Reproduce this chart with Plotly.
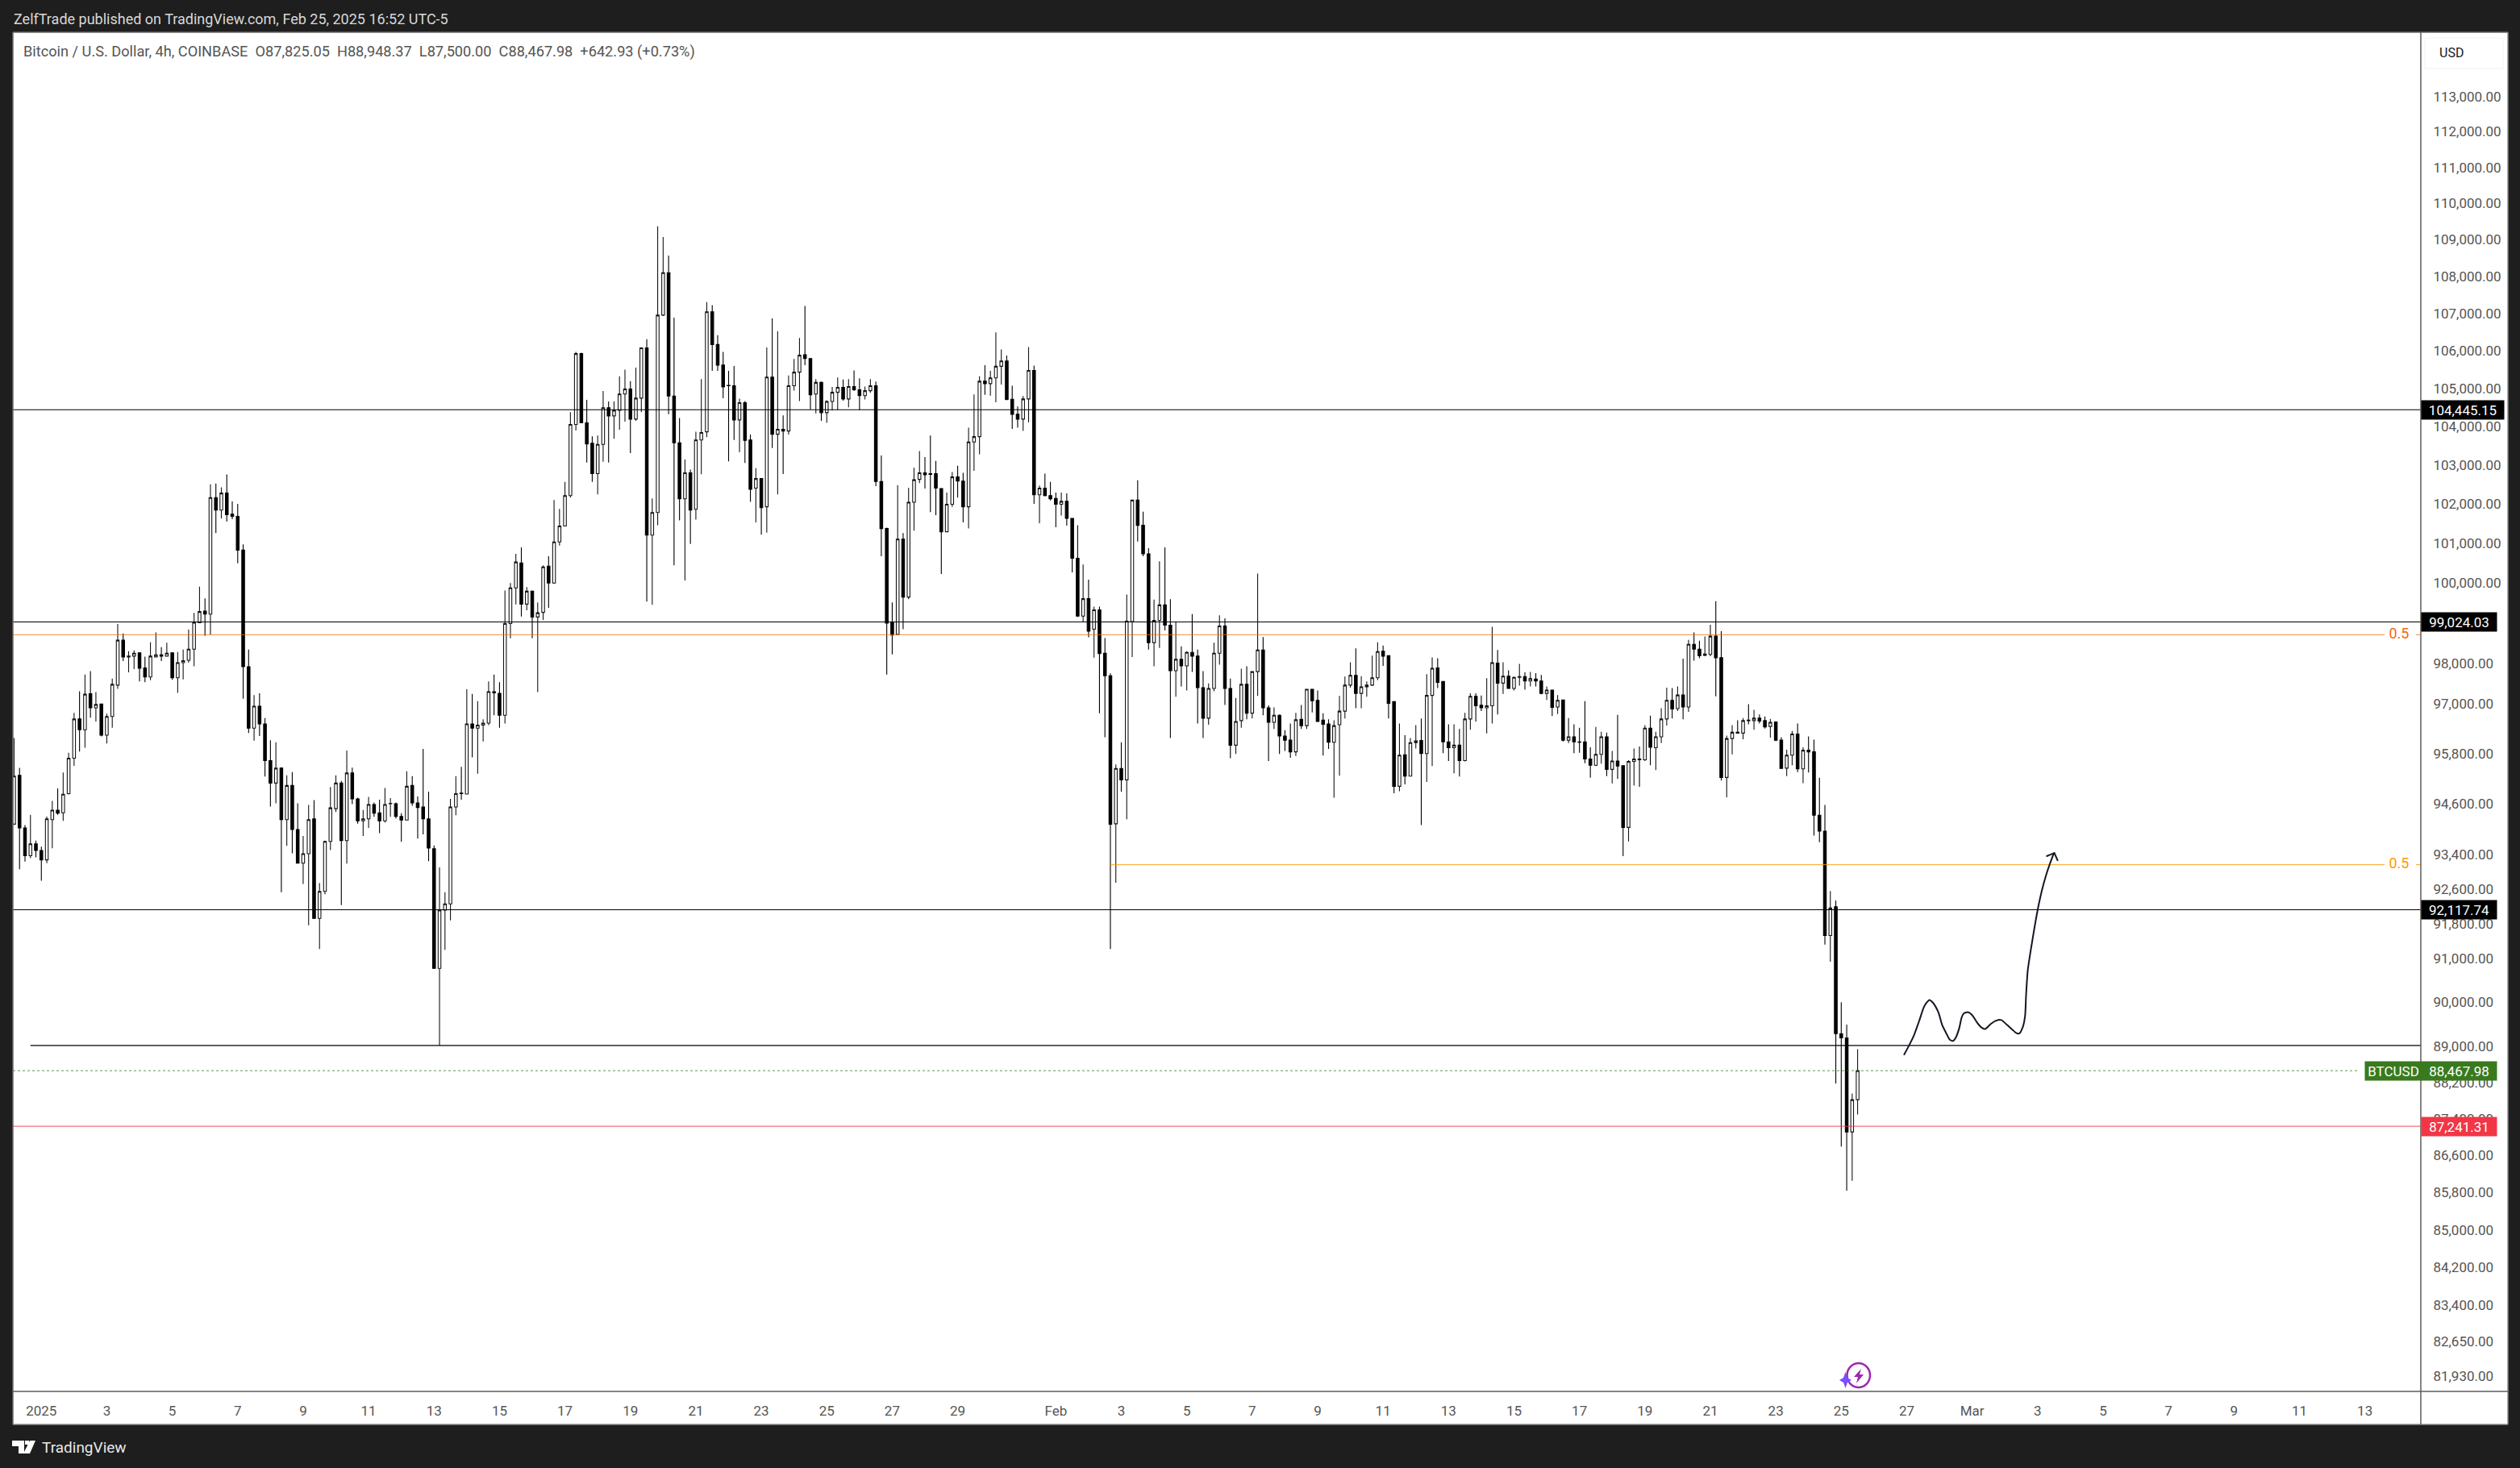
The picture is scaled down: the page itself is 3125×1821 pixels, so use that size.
import math
import pandas as pd
import plotly.graph_objects as go

# ---------- OHLC values (4h bars, oldest first) ----------
opens = [94120,95280,94030,93375,93655,93500,93280,94226,94450,94390,94845,95694,96640,96378,97253,96911,97002,96247,96700,97465,
98571,98158,98178,98259,97887,97666,98158,98209,98178,98259,97646,98017,98077,98350,99004,99293,99221,102166,101846,102283,
101740,101687,100827,97917,96418,96952,96519,95634,95096,95454,94226,95038,93994,93201,93423,94245,91919,92543,93714,94487,
95096,93733,95338,94719,94197,94245,94584,94390,94197,94603,94603,94303,94216,95038,94622,94526,94245,93539,90771,92108,
92253,94526,94855,94835,96519,96418,96489,96539,97304,97263,96730,98984,99874,100505,99469,99791,99148,99262,100423,99998,
101034,101438,102219,104062,105930,104104,103572,102784,103540,104500,104285,104434,104860,104991,104200,104750,106083,101210,101783,106958,
108103,104808,103582,102134,102805,101868,103657,103870,107049,106171,105624,105089,105078,104179,104631,103657,102411,102656,101931,105307,
103806,103934,103891,105078,105438,105898,105799,104860,105166,104370,104664,104904,105034,104729,105056,104970,104816,104948,105078,102581,
101376,99014,98712,101106,99646,102048,102635,102805,102784,102784,102400,101293,101995,102698,102592,101931,103604,103742,105198,105133,
105285,105592,105734,104718,104328,104200,104729,105482,102240,102411,102219,102145,101995,102070,101635,100620,99169,99604,98843,99324,
98249,97696,94129,95445,95174,99034,102102,101458,100733,98511,99065,99449,98944,97817,98098,97937,98269,98178,97404,96660,
97384,98249,98923,97384,96006,96600,97485,96781,97797,98330,96911,96559,96730,96227,96127,95845,96630,96479,97364,97092,
96610,96519,96076,96499,96831,97465,97706,97263,97424,97465,97646,98299,98188,97062,95019,95774,95261,96066,96117,95805,
97213,97887,97555,96086,95946,96006,95634,96640,97193,96972,96911,96962,98007,97515,97686,97384,97656,97676,97565,97616,
97565,97263,97344,96931,97102,96127,96207,96086,96086,95674,95523,95785,96207,95425,95624,95513,94042,95614,95674,95654,
96418,95946,96207,96640,97092,96891,97223,96931,98470,98350,98199,98219,98671,98138,95232,96167,96318,96298,96610,96600,
96660,96600,96458,96569,96127,95454,95764,96277,95435,95885,95845,94332,93955,91524,92186,89293,89199,87118,87825.05]
highs = [96177,95460,94100,94340,93730,93590,94300,94670,94970,95350,95825,96790,97314,97726,97807,97294,97002,96771,97626,98974,
98741,98299,98320,98269,98168,98521,98762,98400,98511,98259,98279,98340,98833,99252,99905,99615,102506,102528,102432,102762,
102070,102006,100972,98340,97223,97263,96660,96127,96076,95474,95280,95358,94613,93839,94574,94690,92737,93733,95000,95280,
95145,95875,95464,94748,94458,94767,94632,94700,94980,94738,94632,94381,95377,95261,94777,95915,94893,93617,93104,92524,
94719,95261,95484,97364,97253,97072,96630,97555,97726,97535,99811,99998,100733,100899,99894,99811,99511,100443,100671,102102,
101878,102571,104381,105974,105952,104707,103753,103774,104937,104664,104664,105329,105504,105198,105559,106083,106313,102145,109369,109078,
108573,106892,104232,103146,102890,103870,105253,107307,107228,106422,105974,105471,105602,104740,104675,103796,102922,102667,106094,106870,
106521,104296,105351,105788,106346,107206,105799,105253,105187,104696,105045,105296,105242,105253,105482,105275,105056,105253,105187,103252,
101397,99511,102485,101262,102421,102933,103369,103210,103774,103114,102400,102294,102826,102986,102805,103976,104849,105329,105624,105471,
106499,106040,105876,105078,104533,104805,106105,105613,102475,102784,102571,102294,102294,102273,101645,101459,100464,100081,99407,99407,
98622,97756,95543,96076,99708,102102,102613,101803,100878,99583,100547,100899,99594,99034,98420,98299,99221,98340,97807,97505,
98511,99190,99117,97626,97153,97867,97927,97807,100236,98651,96972,96921,96750,96368,96529,96791,96982,97364,97364,97334,
96781,96630,96610,97203,97676,98027,98370,97686,97555,98189,98521,98440,98188,97072,96529,96247,96177,96489,96650,97736,
98148,98128,97565,96509,96509,96398,96791,97263,97263,97213,97636,98903,98330,98027,97827,97676,97988,97777,97787,97757,
97716,97434,97344,97223,97102,96660,96509,96428,97072,95956,96448,96328,96308,95865,96740,95513,95644,95926,95976,96489,
96720,96328,96901,97404,97394,97434,98118,98581,98762,98561,98662,98954,99542,98792,96237,96489,96610,96660,97002,96861,
96750,96700,96640,96579,96197,95895,96348,96529,95956,96217,96137,95222,94574,92553,92331,90000,89500,87963,88948.37]
lows = [94120,93060,93240,93320,93340,92790,93200,93550,94340,94200,94826,95510,95855,95946,96670,96579,96217,96046,96428,97374,
98057,97777,97857,97555,97535,97585,98158,98057,98178,97595,97274,97605,98017,97927,99004,98681,98711,101262,101635,101552,
101614,100495,97133,96298,96117,96227,95251,94535,94613,92524,93607,93433,93201,92718,91759,91919,91213,92476,93510,94410,
92224,93191,94594,94129,93839,94033,94294,93907,94158,94294,94255,93704,94206,94555,93781,93878,93249,90771,89030,91194,
91872,94332,94700,94835,95714,95319,96097,96489,96730,96428,96529,98621,99459,99159,99314,98621,97294,99076,99376,99977,
100941,101438,102166,103902,104104,103071,102571,102251,103092,103071,103689,103923,104136,103316,104157,104381,99532,99449,101459,106936,
104328,100443,101583,100060,100982,101604,102767,103732,105471,105471,104750,103103,103657,103337,103060,102060,101531,101220,101272,103444,
102251,102773,103796,104948,104675,105624,104456,104349,104157,104104,104423,104434,104686,104511,104937,104434,104718,104893,102464,100671,
97726,98219,98692,98843,99594,101324,102539,102400,101793,101719,100226,101293,101931,102166,101531,101376,102858,103284,104838,104816,
104642,105111,104696,103945,103976,103891,104115,102006,101510,102198,102092,101407,101708,101449,100267,99148,99024,98642,98139,96781,
96197,91213,92747,94893,94235,98158,101044,100671,98340,97927,98380,98813,96177,97183,97434,97334,97787,96529,96177,96499,
97314,97968,96982,95694,95795,96428,96630,96650,97203,96730,95624,96398,95795,95865,95704,95744,96398,96398,96801,96579,
95754,95915,94748,95270,96650,97404,96901,96901,97183,97444,97585,97937,96650,94855,94903,95067,95251,95926,94100,95125,
95503,97394,95815,95624,95329,95251,95614,96378,96579,96831,96288,96529,96750,97253,97374,97334,97454,97354,97434,97434,
97243,97102,96710,96760,96097,96056,95815,95825,95574,95222,95503,95563,95261,95087,95193,93365,93714,95038,95009,95624,
95523,95406,96056,96479,96650,96831,96630,96811,98067,98128,98178,98178,97193,95155,94758,95785,96298,96147,96509,96378,
96529,96408,96187,96107,95435,95261,95523,95358,95096,95348,93849,93694,91317,90921,88184,86797,85842,86054,87500.00]
closes = [95261,94030,93375,93655,93500,93280,94245,94450,94380,94830,95694,96640,96378,97243,96911,96992,96247,96700,97485,98571,
98158,98178,98249,97877,97666,98178,98209,98178,98249,97646,98017,98067,98350,99014,99283,99221,102166,101846,102283,101729,
101687,100827,97917,96418,96952,96519,95634,95096,95454,94226,95038,93994,93201,93423,94226,91919,92543,93714,94506,95096,
93733,95338,94719,94197,94245,94584,94381,94197,94584,94613,94303,94216,95019,94622,94516,94245,93559,90771,92108,92253,
94526,94845,94845,96519,96418,96489,96539,97304,97274,96730,98984,99874,100526,99469,99791,99148,99252,100402,99998,101034,
101438,102219,104062,105930,104104,103550,102784,103540,104500,104285,104434,104860,104991,104200,104750,106083,101210,101783,106958,108103,
104808,103582,102134,102805,101846,103657,103849,107049,106171,105624,105045,105078,104179,104631,103646,102379,102656,101910,105307,103806,
103934,103891,105078,105438,105887,105799,104838,105166,104370,104664,104904,105034,104729,105056,104970,104816,104948,105078,102581,101376,
98994,98702,101106,99646,102048,102624,102805,102752,102763,102411,101293,101995,102698,102592,101931,103604,103742,105198,105133,105285,
105592,105734,104718,104328,104200,104729,105482,102240,102411,102219,102134,101995,102070,101635,100620,99169,99604,98793,99324,98239,
97696,94120,95445,95174,99045,102102,101458,100733,98511,99065,99449,98944,97817,98098,97937,98269,98178,97404,96660,97384,
98249,98923,97384,96006,96579,97485,96781,97797,98330,96911,96559,96730,96227,96127,95845,96620,96479,97364,97082,96579,
96509,96076,96479,96831,97465,97706,97263,97424,97465,97646,98289,98178,97022,95019,95764,95261,96066,96107,95805,97213,
97877,97535,96086,95946,96006,95634,96640,97193,96962,96911,96962,98017,97515,97686,97384,97656,97676,97565,97626,97565,
97263,97344,96921,97092,96127,96207,96086,96076,95674,95523,95785,96207,95425,95624,95503,94042,95614,95674,95654,96418,
95956,96207,96640,97092,96881,97223,96931,98470,98350,98189,98229,98671,98138,95232,96167,96318,96298,96600,96600,96660,
96590,96448,96559,96127,95445,95764,96277,95435,95885,95845,94332,93955,91524,92157,89293,89199,87118,87825,88467.98]

first_bar = "2024-12-31 07:00"
times = pd.date_range(first_bar, periods=len(opens), freq="4h")

# ---------- axis labels ----------
x_tick_dates = ["2025-01-%02d 03:00" % d for d in range(1, 30, 2)] + \
               ["2025-02-01 03:00"] + ["2025-02-%02d 03:00" % d for d in range(3, 28, 2)] + \
               ["2025-03-01 03:00"] + ["2025-03-%02d 03:00" % d for d in range(3, 14, 2)]
x_tick_labels = ["2025"] + [str(d) for d in range(3, 30, 2)] + \
                ["Feb"] + [str(d) for d in range(3, 28, 2)] + \
                ["Mar"] + [str(d) for d in range(3, 14, 2)]
y_tick_values = [113000,112000,111000,110000,109000,108000,107000,106000,105000,104000,103000,102000,101000,100000,
                 98000,97000,95800,94600,93400,92600,91800,91000,90000,89000,88200,87400,86600,85800,85000,84200,83400,82650,81930]
y_tick_labels = ["{:,.2f}".format(v) for v in y_tick_values]

# ---------- drawing levels ----------
resistance_upper = 104445.15
resistance_mid = 99024.03
fib_red = 98707
fib_orange = 93166
level_lower = 92117.74
level_base = 89030
last_price = 88467.98
level_red = 87241.31

# hand-drawn sketch: days after 25 Feb 03:00, and price
sketch_days = [1.914,2.062,2.226,2.390,2.513,2.595,2.694,2.800,2.965,3.088,3.211,3.318,3.416,3.498,3.605,3.679,3.745,3.868,3.991,4.155,
               4.278,4.401,4.566,4.730,4.894,5.058,5.222,5.346,5.444,5.551,5.617,5.649,5.699,5.797,5.920,6.027,6.125,6.249,6.372,6.495]
sketch_price = [88817,89016,89266,89600,89871,89980,90054,89993,89780,89480,89300,89158,89133,89205,89418,89660,89750,89780,89720,89540,
                89437,89400,89510,89587,89600,89497,89390,89310,89300,89450,89690,90177,90727,91218,91773,92210,92550,92896,93180,93430]
arrow_days = [6.265, 6.512, 6.618]
arrow_price = [93362, 93443, 93255]

# ---------- pane geometry ----------
W, H = 3125, 1821
PL, PR, PT, PB = 16, 3002, 40, 1726
OR, OB = 3110, 1767
def px(x): return (x - PL) / (PR - PL)
def py(y): return (PB - y) / (PB - PT)

X_LEFT = "2024-12-31 06:08"
X_RIGHT = "2025-03-14 20:02"
Y_TOP = 114835
Y_BOTTOM = 81620

BG = "#1e1e1e"
FONT = "Roboto"
anchor = pd.Timestamp("2025-02-25 03:00")

fig = go.Figure()
fig.add_trace(go.Candlestick(
    x=times, open=opens, high=highs, low=lows, close=closes,
    increasing=dict(line=dict(color="#16161a", width=1.1), fillcolor="#ffffff"),
    decreasing=dict(line=dict(color="#000000", width=1.1), fillcolor="#000000"),
    whiskerwidth=0, showlegend=False))

def hline(start, end, price, color, width=1.1, dash="solid"):
    fig.add_trace(go.Scatter(x=[start, end], y=[price, price], mode="lines", hoverinfo="skip",
                             line=dict(color=color, width=width, dash=dash), showlegend=False))

hline(X_LEFT, X_RIGHT, resistance_upper, "#000000")
hline(X_LEFT, X_RIGHT, resistance_mid, "#000000")
hline(X_LEFT, "2025-03-13 17:30", fib_red, "#ef6c00", 0.8)
hline("2025-03-14 16:30", X_RIGHT, fib_red, "#ef6c00", 0.8)
hline("2025-02-02 19:00", "2025-03-13 17:30", fib_orange, "#ff9800", 0.9)
hline("2025-03-14 16:30", X_RIGHT, fib_orange, "#ff9800", 0.9)
hline(X_LEFT, X_RIGHT, level_lower, "#000000")
hline("2024-12-31 19:00", X_RIGHT, level_base, "#000000")
hline(X_LEFT, "2025-03-12 21:30", last_price, "#3a7a1e", 0.8, "dot")
hline(X_LEFT, X_RIGHT, level_red, "#f23645", 0.9)

fig.add_trace(go.Scatter(
    x=["2025-03-14 04:00", "2025-03-14 04:00"], y=[fib_red, fib_orange], mode="text",
    text=["0.5", "0.5"], textposition="middle center", hoverinfo="skip", showlegend=False,
    textfont=dict(family=FONT, size=18, color=["#f4650f", "#ff9800"])))

fig.add_trace(go.Scatter(
    x=[anchor + pd.Timedelta(days=d) for d in sketch_days], y=sketch_price, mode="lines",
    line=dict(color="#131722", width=2, shape="spline", smoothing=0.6), hoverinfo="skip", showlegend=False))
fig.add_trace(go.Scatter(
    x=[anchor + pd.Timedelta(days=d) for d in arrow_days], y=arrow_price, mode="lines",
    line=dict(color="#131722", width=2), hoverinfo="skip", showlegend=False))

shapes = []
def rect(x0, y0, x1, y1, fill, line=None, lw=1, layer="below"):
    shapes.append(dict(type="rect", xref="paper", yref="paper", x0=px(x0), x1=px(x1), y0=py(y1), y1=py(y0),
                       fillcolor=fill, line=dict(color=line or fill, width=lw if line else 0), layer=layer))
def seg(x0, y0, x1, y1, color="#5d5d5d", lw=1.5):
    shapes.append(dict(type="line", xref="paper", yref="paper", x0=px(x0), x1=px(x1), y0=py(y0), y1=py(y1),
                       line=dict(color=color, width=lw), layer="above"))
def poly(points, fill, line=None, lw=0):
    d = "M " + " L ".join("%.5f,%.5f" % (px(a), py(b)) for a, b in points) + " Z"
    shapes.append(dict(type="path", xref="paper", yref="paper", path=d, fillcolor=fill,
                       line=dict(color=line or fill, width=lw), layer="above"))

# white surround for panes
rect(PL, PT, OR, OB, "#ffffff")
seg(PL, PT, OR, PT, "#6a6a6a", 1.5)
seg(PL, PT, PL, OB, "#6a6a6a", 1.5)
seg(OR, PT, OR, OB, "#8a8a8a", 1.5)
seg(PL, OB, OR, OB, "#8a8a8a", 1.5)
seg(PL, PB, OR, PB, "#5d5d5d", 1.5)
seg(PR, PT, PR, OB, "#5d5d5d", 1.5)
# USD badge
shapes.append(dict(type="rect", xref="paper", yref="paper", x0=px(3007), x1=px(3104), y0=py(85), y1=py(47),
                   fillcolor="#ffffff", line=dict(color="#f2f2f2", width=1), layer="above"))
# purple icon shapes
shapes.append(dict(type="circle", xref="paper", yref="paper", x0=px(2290.5), x1=px(2319), y0=py(1721), y1=py(1691),
                   line=dict(color="#9c27b0", width=2.5), layer="above"))
poly([(2308, 1698), (2299, 1708), (2304, 1708), (2302, 1716), (2311, 1705), (2306, 1705)], "#9c27b0")
poly([(2288.5, 1702), (2291, 1709), (2296, 1712), (2291, 1715), (2288.5, 1722), (2286, 1715), (2281, 1712), (2286, 1709)], "#7c4dff")
# TradingView logo
poly([(15, 1787), (30, 1787), (30, 1803), (23, 1803), (23, 1794), (15, 1794)], "#ffffff")
poly([(31, 1787), (36, 1787), (36, 1792), (31, 1792)], "#ffffff")
poly([(37, 1787), (44, 1787), (37, 1803), (29, 1803)], "#ffffff")

annotations = []
def note(text, x, y, size, color, anchor_x="left", **kw):
    annotations.append(dict(text=text, xref="paper", yref="paper", x=px(x), y=py(y), xanchor=anchor_x, yanchor="middle",
                            showarrow=False, font=dict(family=FONT, size=size, color=color), **kw))

note("ZelfTrade published on TradingView.com, Feb 25, 2025 16:52 UTC-5", 15, 23, 18, "#d8d8d8")
note("Bitcoin / U.S. Dollar, 4h, COINBASE &nbsp;O87,825.05 &nbsp;H88,948.37 &nbsp;L87,500.00 &nbsp;C88,467.98 &nbsp;+642.93 (+0.73%)",
     27, 64, 18.2, "#555555")
note("USD", 3023, 66, 16, "#131722")
note("TradingView", 50, 1795, 19, "#e8e8e8")

def price_tag(text, price, x0, x1, fill):
    annotations.append(dict(text=text, xref="paper", yref="y", x=px(x0), y=math.log10(price), xanchor="left", yanchor="middle",
                            width=x1 - x0 - 2, height=21, align="center", showarrow=False, bgcolor=fill, borderpad=1,
                            font=dict(family=FONT, size=17, color="#ffffff")))

price_tag("104,445.15", resistance_upper, 3002, 3104, "#000000")
price_tag("99,024.03", resistance_mid, 3002, 3095, "#000000")
price_tag("92,117.74", level_lower, 3002, 3095, "#000000")
price_tag("88,467.98", last_price, 3002, 3095, "#3a7a1e")
price_tag("BTCUSD", last_price, 2932, 3002, "#3a7a1e")
price_tag("87,241.31", level_red, 3002, 3095, "#f23645")

fig.update_layout(
    width=W, height=H, autosize=False, paper_bgcolor=BG, plot_bgcolor="#ffffff",
    margin=dict(l=PL, r=W - PR, t=PT, b=H - PB, pad=0, autoexpand=False),
    showlegend=False, boxgap=0.28, hovermode=False,
    shapes=shapes, annotations=annotations,
    xaxis=dict(type="date", range=[X_LEFT, X_RIGHT], tickmode="array", tickvals=x_tick_dates, ticktext=x_tick_labels,
               showgrid=False, zeroline=False, showline=False, ticks="outside", ticklen=9, tickcolor="rgba(0,0,0,0)",
               tickfont=dict(family=FONT, size=17, color="#555555"), tickangle=0, rangeslider=dict(visible=False)),
    yaxis=dict(type="log", side="right", range=[math.log10(Y_BOTTOM), math.log10(Y_TOP)], tickmode="array",
               tickvals=y_tick_values, ticktext=y_tick_labels, showgrid=False, zeroline=False, showline=False,
               ticks="outside", ticklen=11, tickcolor="rgba(0,0,0,0)",
               tickfont=dict(family=FONT, size=17, color="#555555")),
)

fig.write_html("out.html", config={"displayModeBar": False},
               post_script="document.body.style.margin='0';document.body.style.background='#1e1e1e';")
